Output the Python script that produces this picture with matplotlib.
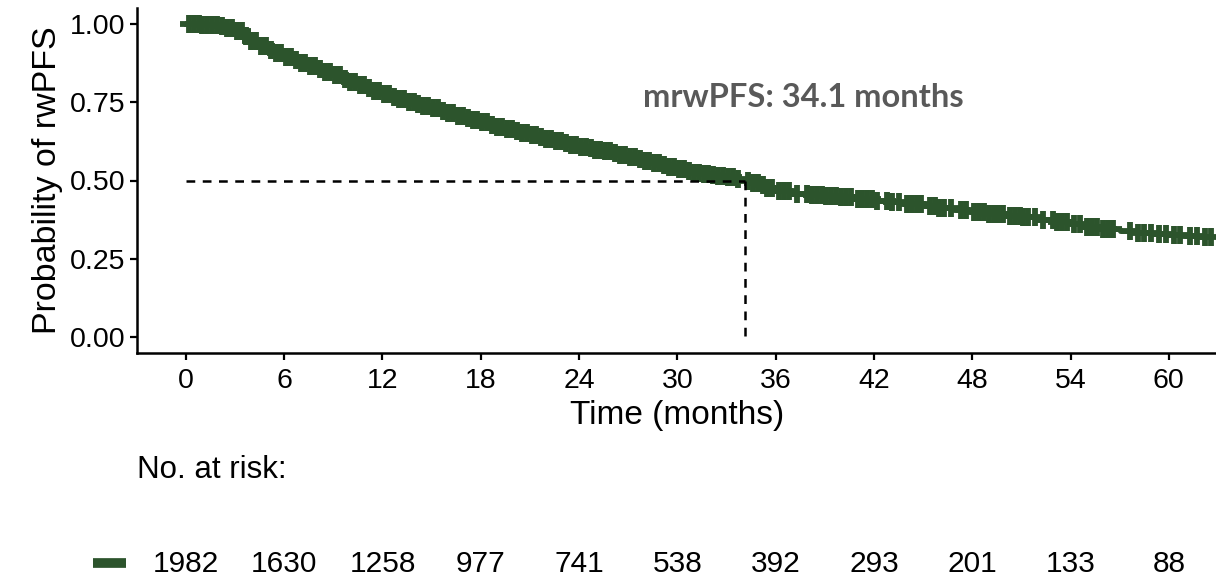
import numpy as np
import matplotlib
matplotlib.use('Agg')
import matplotlib.pyplot as plt
from matplotlib.lines import Line2D
from matplotlib.transforms import blended_transform_factory

plt.rcParams['font.family'] = ['Liberation Sans', 'DejaVu Sans']

# ------------------------------------------------------------
# Kaplan-Meier estimate of rwPFS (step values) and censoring times
# ------------------------------------------------------------
km_time = [0, 0.5, 1, 1.5, 2, 2.5, 3, 3.5, 4, 4.5, 5, 5.5, 6, 6.5, 7, 7.5,
           8, 8.5, 9, 9.5, 10, 10.5, 11, 11.5, 12, 12.5, 13, 13.5, 14,
           14.5, 15, 15.5, 16, 16.5, 17, 17.5, 18, 18.5, 19, 19.5, 20,
           20.5, 21, 21.5, 22, 22.5, 23, 23.5, 24, 24.5, 25, 25.5, 26,
           26.5, 27, 27.5, 28, 28.5, 29, 29.5, 30, 30.5, 31, 31.5, 32,
           32.5, 33, 33.5, 34.1, 34.5, 35, 35.5, 36, 37, 38, 39, 40, 41,
           42, 43, 44, 45, 46, 47, 48, 49, 50, 51, 52, 53, 54, 55, 56, 57,
           58, 59, 60, 61, 62]
km_surv = [1.0, 0.999, 0.998, 0.996, 0.993, 0.988, 0.978, 0.962, 0.946,
           0.93, 0.917, 0.906, 0.896, 0.886, 0.876, 0.866, 0.856, 0.846,
           0.836, 0.825, 0.815, 0.805, 0.795, 0.785, 0.776, 0.768, 0.76,
           0.752, 0.745, 0.737, 0.73, 0.722, 0.715, 0.707, 0.70, 0.693,
           0.686, 0.678, 0.67, 0.663, 0.657, 0.651, 0.645, 0.638, 0.632,
           0.626, 0.62, 0.613, 0.607, 0.603, 0.598, 0.593, 0.588, 0.582,
           0.576, 0.569, 0.562, 0.556, 0.55, 0.544, 0.538, 0.531, 0.525,
           0.521, 0.518, 0.514, 0.51, 0.505, 0.50, 0.493, 0.485, 0.476,
           0.468, 0.458, 0.453, 0.45, 0.446, 0.441, 0.436, 0.43, 0.425,
           0.419, 0.413, 0.407, 0.40, 0.394, 0.388, 0.382, 0.375, 0.369,
           0.362, 0.353, 0.345, 0.339, 0.333, 0.33, 0.327, 0.322, 0.318]

censor_time = [
    0.2, 0.5, 0.8, 1.0, 1.3, 1.6, 1.9, 2.2, 2.5, 2.8, 3.1, 3.4, 3.7, 4.0,
    4.3, 4.6, 4.9, 5.2, 5.5, 5.8, 6.1, 6.4, 6.7, 7.0, 7.3, 7.6, 7.9, 8.2,
    8.5, 8.8, 9.1, 9.4, 9.7, 10.0, 10.3, 10.6, 10.9, 11.2, 11.5, 11.8,
    12.1, 12.4, 12.7, 13.0, 13.3, 13.6, 13.9, 14.2, 14.5, 14.8, 15.1,
    15.4, 15.7, 16.0, 16.3, 16.6, 16.9, 17.2, 17.5, 17.8, 18.1, 18.4,
    18.7, 19.0, 19.3, 19.6, 19.9, 20.2, 20.5, 20.8, 21.1, 21.4, 21.7,
    22.0, 22.3, 22.6, 22.9, 23.2, 23.5, 23.8, 24.1, 24.4, 24.7, 25.0,
    25.3, 25.6, 25.9, 26.2, 26.5, 26.8, 27.1, 27.4, 27.7, 28.0, 28.3,
    28.6, 28.9, 29.2, 29.5, 29.8, 30.1, 30.4, 30.7, 31.0, 31.3, 31.6,
    31.9, 32.2, 32.5, 32.8, 33.1, 33.4, 33.7, 34.3, 34.6, 34.9, 35.2,
    35.5, 35.8, 36.2, 36.5, 36.8, 37.3, 37.9, 38.2, 38.5, 38.8, 39.1,
    39.4, 39.7, 40.0, 40.3, 40.6, 41.0, 41.3, 41.6, 41.9, 42.2, 42.8,
    43.1, 43.5, 44.0, 44.3, 44.6, 44.9, 45.4, 45.7, 46.0, 46.3, 46.7,
    47.3, 47.6, 48.1, 48.4, 48.7, 49.0, 49.3, 49.6, 49.9, 50.3, 50.6,
    50.9, 51.1, 51.4, 51.8, 52.3, 52.9, 53.2, 53.5, 53.8, 54.2, 54.6,
    55.0, 55.3, 55.6, 56.0, 56.3, 56.6, 57.6, 58.1, 58.5, 58.9, 59.4,
    59.8, 60.3, 60.7, 61.3, 61.7, 62.2, 62.6,
]

median_pfs = 34.1
risk_time = [0, 6, 12, 18, 24, 30, 36, 42, 48, 54, 60]
n_at_risk = [1982, 1630, 1258, 977, 741, 538, 392, 293, 201, 133, 88]

curve_color = '#2c542c'

# censor marks sit on the KM step value at their time
km_t = np.array(km_time)
km_s = np.array(km_surv)
cens_t = np.array(censor_time)
cens_s = km_s[np.searchsorted(km_t, cens_t, side='right') - 1]

# ------------------------------------------------------------
# Figure
# ------------------------------------------------------------
fig = plt.figure(figsize=(12.16, 5.77), dpi=100)
W, H = 1216, 577
ax = fig.add_axes([136.7 / W, 1 - 352.7 / H, (1218 - 136.7) / W, (352.7 - 8.3) / H])

ax.step(km_t, km_s, where='post', color=curve_color, lw=3.5)
ax.plot(cens_t, cens_s, ls='none', marker='+', ms=13.5, mew=4.2, color=curve_color)

# median reference lines
ax.plot([0, median_pfs], [0.5, 0.5], color='black', lw=1.8, dashes=(3.5, 3))
ax.plot([median_pfs, median_pfs], [0.5, 0], color='black', lw=1.8, dashes=(3.5, 3))
ax.text(37.7, 0.765, f'mrwPFS: {median_pfs} months', ha='center', va='center',
        fontsize=23.5, fontweight='bold', color='#595959', family=['Lato', 'DejaVu Sans'])

ax.set_xlim(-3, 63)
ax.set_ylim(-0.05, 1.05)
ax.set_xticks(risk_time)
ax.set_yticks([0, 0.25, 0.5, 0.75, 1.0])
ax.set_yticklabels(['0.00', '0.25', '0.50', '0.75', '1.00'])
ax.tick_params(labelsize=20.5, width=1.6, length=5, colors='black')
ax.tick_params(axis='x', pad=6)
ax.tick_params(axis='y', pad=3)

for side in ['top', 'right']:
    ax.spines[side].set_visible(False)
for side in ['left', 'bottom']:
    ax.spines[side].set_linewidth(1.8)

ax.set_xlabel('Time (months)', fontsize=24, labelpad=4)
ax.set_ylabel('Probability of rwPFS', fontsize=24.5, labelpad=5)

# ------------------------------------------------------------
# Number at risk table
# ------------------------------------------------------------
fig.text(136.7 / W, 1 - 470 / H, 'No. at risk:', fontsize=22.5, va='center', ha='left')

trans = blended_transform_factory(ax.transData, fig.transFigure)
for t, n in zip(risk_time, n_at_risk):
    ax.text(t, 1 - 564 / H, str(n), transform=trans, ha='center', va='center',
            fontsize=21.5, clip_on=False)

fig.add_artist(Line2D([93 / W, 126 / W], [1 - 563 / H, 1 - 563 / H],
                      color=curve_color, lw=7, solid_capstyle='butt'))

fig.savefig('out.png', dpi=100)
